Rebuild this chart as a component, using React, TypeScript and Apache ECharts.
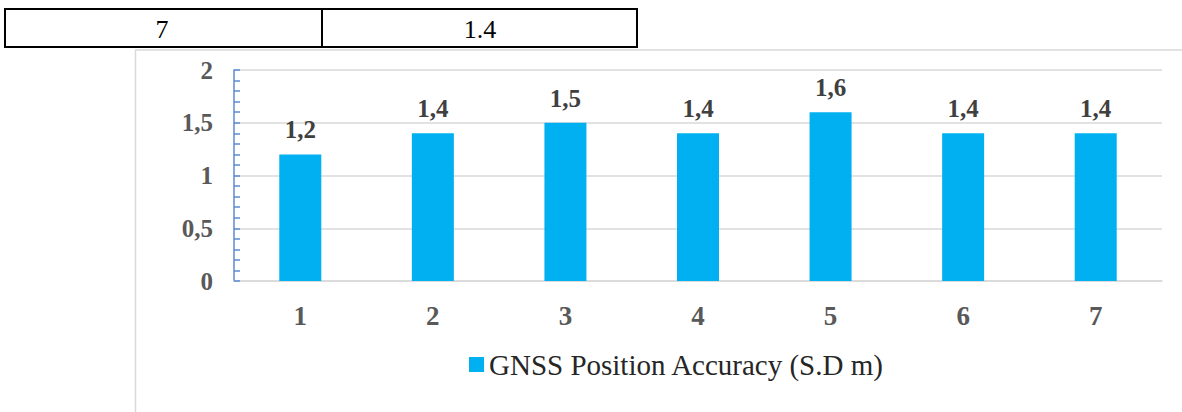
import React, { useEffect, useRef } from "react";
import * as echarts from "echarts";

const categories = ["1", "2", "3", "4", "5", "6", "7"];
const accuracyValues = [1.2, 1.4, 1.5, 1.4, 1.6, 1.4, 1.4];
const seriesName = "GNSS Position Accuracy (S.D m)";
const tableCells = ["7", "1.4"];

const SERIF = "Liberation Serif";
const comma = (v: number) => String(v).replace(".", ",");

export default function App() {
  const ref = useRef<HTMLDivElement>(null);
  useEffect(() => {
    if (!ref.current) return;
    const chart = echarts.init(ref.current, null, { renderer: "svg" });
    chart.setOption({
      animation: false,
      backgroundColor: "#ffffff",
      textStyle: { fontFamily: SERIF },
      grid: { left: 234, right: 20, top: 70, bottom: 131, containLabel: false },
      xAxis: {
        type: "category",
        data: categories,
        axisLine: { show: true, lineStyle: { color: "#D9D9D9", width: 1.5 } },
        axisTick: { show: false },
        axisLabel: {
          margin: 21,
          fontFamily: SERIF,
          fontSize: 27,
          fontWeight: "bold",
          color: "#595959",
        },
      },
      yAxis: {
        type: "value",
        min: 0,
        max: 2,
        interval: 0.5,
        axisLine: { show: true, lineStyle: { color: "#5B8BCF", width: 1.5 } },
        axisTick: { show: true, inside: true, length: 6, lineStyle: { color: "#5B8BCF", width: 1.5 } },
        minorTick: { show: true, splitNumber: 5, length: 6, lineStyle: { color: "#5B8BCF", width: 1.5 } },
        splitLine: { show: true, lineStyle: { color: "#D9D9D9", width: 1.5 } },
        axisLabel: {
          margin: 21,
          fontFamily: SERIF,
          fontSize: 25,
          fontWeight: "bold",
          color: "#595959",
          formatter: (v: number) => comma(v),
        },
      },
      legend: {
        left: 464,
        top: 345,
        icon: "rect",
        itemWidth: 15,
        itemHeight: 15,
        itemGap: 6,
        textStyle: { fontFamily: SERIF, fontSize: 29, color: "#262626" },
        data: [seriesName],
      },
      series: [
        {
          name: seriesName,
          type: "bar",
          data: accuracyValues,
          barWidth: 42,
          itemStyle: { color: "#00B0F0" },
          label: {
            show: true,
            position: "top",
            distance: 12,
            fontFamily: SERIF,
            fontSize: 25,
            fontWeight: "bold",
            color: "#404040",
            formatter: (p: any) => comma(p.value),
          },
        },
      ],
      graphic: [
        { type: "line", shape: { x1: 135, y1: 50, x2: 1182, y2: 50 }, style: { stroke: "#D9D9D9", lineWidth: 1.5 } },
        { type: "line", shape: { x1: 135.5, y1: 50, x2: 135.5, y2: 412 }, style: { stroke: "#D9D9D9", lineWidth: 1.5 } },
        { type: "rect", shape: { x: 5, y: 9, width: 632, height: 38 }, style: { fill: "#ffffff", stroke: "#000000", lineWidth: 2 } },
        { type: "line", shape: { x1: 322, y1: 9, x2: 322, y2: 47 }, style: { stroke: "#000000", lineWidth: 2 } },
        {
          type: "text",
          x: 162,
          y: 29,
          style: { text: tableCells[0], fontFamily: SERIF, fontSize: 26, fill: "#000000", align: "center", verticalAlign: "middle" },
        },
        {
          type: "text",
          x: 480,
          y: 29,
          style: { text: tableCells[1], fontFamily: SERIF, fontSize: 26, fill: "#000000", align: "center", verticalAlign: "middle" },
        },
      ],
    });
    return () => chart.dispose();
  }, []);
  return (
    <div
      ref={ref}
      style={{ position: "absolute", left: 0, top: 0, width: 1182, height: 412 }}
    />
  );
}
